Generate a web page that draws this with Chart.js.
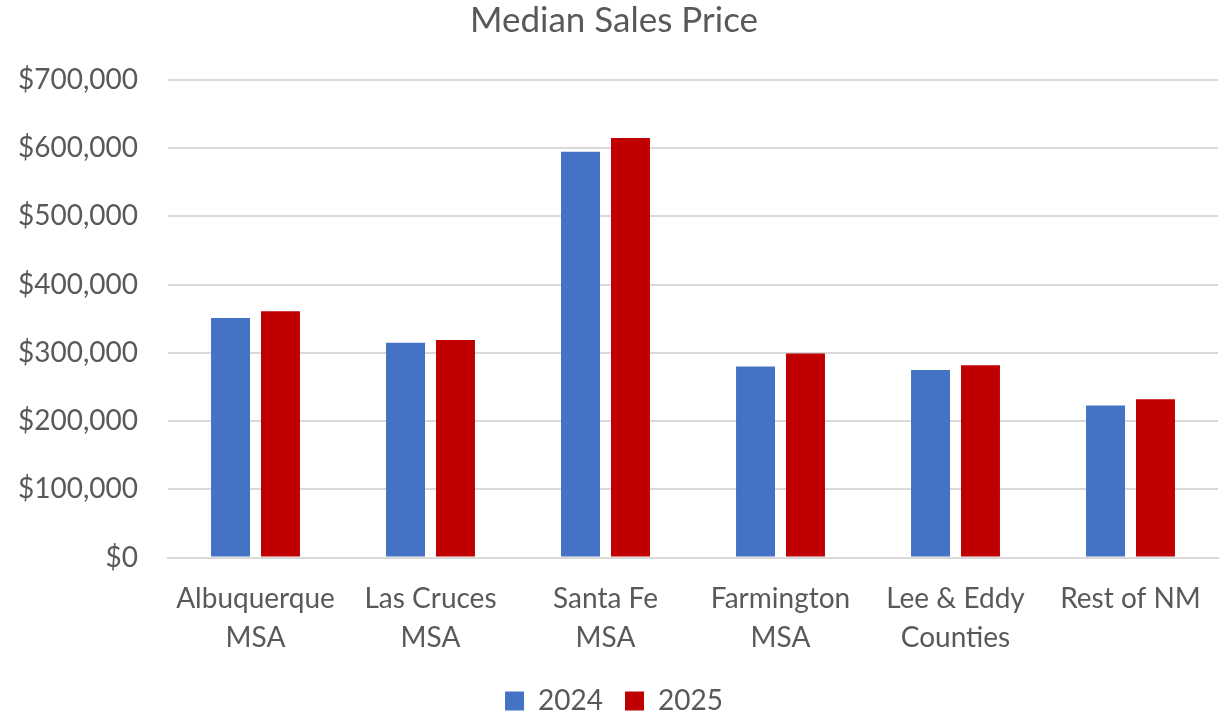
<!DOCTYPE html>
<html>
<head>
<meta charset="utf-8">
<script src="https://cdn.jsdelivr.net/npm/chart.js@4"></script>
<style>
  body { margin: 0; background: #fff; }
  #wrap { width: 1223px; height: 715px; }
</style>
</head>
<body>
<div id="wrap"><canvas id="priceChart" width="1223" height="715"></canvas></div>
<script>
const categories = [
    ["Albuquerque", "MSA"],
    ["Las Cruces", "MSA"],
    ["Santa Fe", "MSA"],
    ["Farmington", "MSA"],
    ["Lee & Eddy", "Counties"],
    ["Rest of NM"]
];
const prices2024 = [351000, 315000, 595000, 280000, 275000, 223000];
const prices2025 = [361000, 319000, 615000, 299000, 282000, 232000];
const yTicks = [0, 100000, 200000, 300000, 400000, 500000, 600000, 700000];

const textColor = '#595959';
const fontName = 'Lato';

function money(v) {
    return '$' + v.toLocaleString('en-US');
}

const ctx = document.getElementById('priceChart').getContext('2d');

new Chart(ctx, {
    type: 'bar',
    data: {
        labels: categories,
        datasets: [{
            label: '2024',
            data: prices2024,
            backgroundColor: '#4472C4',
            categoryPercentage: 0.571,
            barPercentage: 0.78
        }, {
            label: '2025',
            data: prices2025,
            backgroundColor: '#C00000',
            categoryPercentage: 0.571,
            barPercentage: 0.78
        }]
    },
    options: {
        responsive: false,
        animation: false,
        layout: { padding: { left: 10, right: 5, top: 0, bottom: -10 } },
        plugins: {
            title: {
                display: true,
                text: 'Median Sales Price',
                color: textColor,
                font: { family: fontName, size: 35, weight: 'normal' },
                padding: { top: 0, bottom: 38 }
            },
            legend: {
                position: 'bottom',
                labels: {
                    color: textColor,
                    font: { family: fontName, size: 28 },
                    boxWidth: 19,
                    boxHeight: 19,
                    padding: 22
                }
            },
            tooltip: { enabled: false }
        },
        scales: {
            x: {
                grid: { display: false },
                border: { color: '#D9D9D9', width: 2 },
                afterFit: axis => { axis.height -= 7; },
                ticks: {
                    color: textColor,
                    font: { family: fontName, size: 28, lineHeight: 1.4 },
                    maxRotation: 0,
                    padding: 14
                }
            },
            y: {
                min: 0,
                max: 700000,
                afterBuildTicks: axis => {
                    axis.ticks = yTicks.map(v => ({ value: v }));
                },
                afterFit: axis => { axis.width = 158; },
                grid: { color: '#D9D9D9', lineWidth: 2, drawTicks: false },
                border: { display: false },
                ticks: {
                    color: textColor,
                    font: { family: fontName, size: 28 },
                    padding: 30,
                    callback: v => money(v)
                }
            }
        }
    }
});
</script>
</body>
</html>
